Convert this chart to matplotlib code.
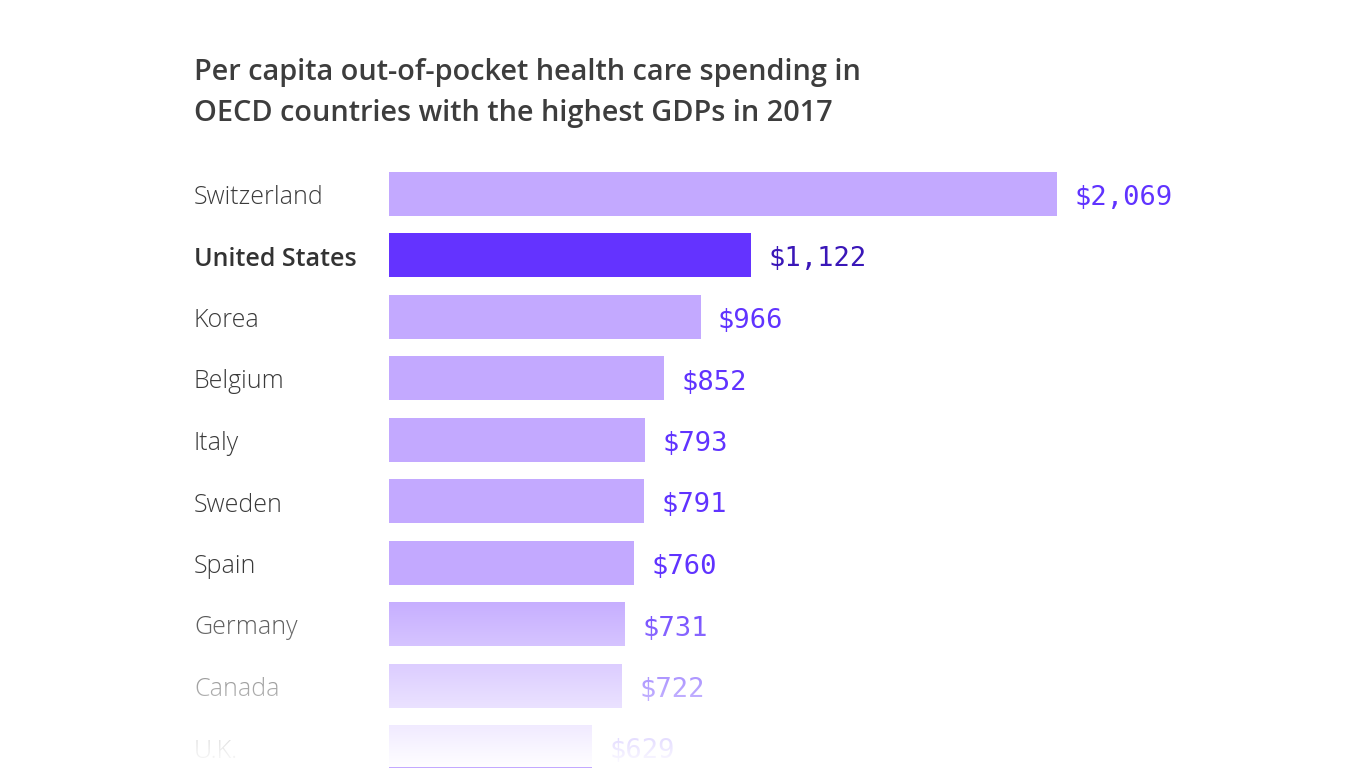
import matplotlib.pyplot as plt
import numpy as np

countries = ['Switzerland', 'United States', 'Korea', 'Belgium', 'Italy',
             'Sweden', 'Spain', 'Germany', 'Canada', 'U.K.']
spending = [2069, 1122, 966, 852, 793, 791, 760, 731, 722, 629]
highlight = 'United States'

W, H = 1366, 768
fig = plt.figure(figsize=(W / 100, H / 100), dpi=100)
fig.patch.set_facecolor('white')

# bars: left edge at 389px, 0.3229 px per dollar
x0 = 389
px_per = (1057 - 389) / 2069
row0, step = 193.5, 61.5
ax = fig.add_axes([x0 / W, 0, 1 - x0 / W, 1])
ax.set_xlim(0, (W - x0) / px_per)
ax.set_ylim((H - row0) / step, -row0 / step)
ax.axis('off')

y = np.arange(len(countries))
colors = ['#6433ff' if c == highlight else '#c3a9ff' for c in countries]
ax.barh(y, spending, height=44 / step, color=colors)

for yi, c, v in zip(y, countries, spending):
    hl = c == highlight
    ax.text(v + 17 / px_per, yi + 11.5 / step, f'${v:,}', va='baseline', ha='left',
            fontsize=19.5, family='DejaVu Sans Mono',
            color='#3a17b8' if hl else '#6033ff')
    fig.text(194 / W, 1 - (row0 + step * yi + 10.5) / H, c, va='baseline', ha='left',
             fontsize=18, family='Open Sans', weight=600 if hl else 300,
             color='#333333' if hl else '#3a3a3a')

fig.text(194 / W, 1 - 80 / H, 'Per capita out-of-pocket health care spending in',
         fontsize=20.8, family='Open Sans', weight=600, color='#3d3d3d', va='baseline')
fig.text(194 / W, 1 - 121 / H, 'OECD countries with the highest GDPs in 2017',
         fontsize=20.8, family='Open Sans', weight=600, color='#3d3d3d', va='baseline')

# white fade over the bottom rows
fade = fig.add_axes([0, 1 / H, 1, 177 / H])
fade.set_zorder(10)
fade.axis('off')
grad = np.zeros((200, 2, 4))
grad[..., :3] = 1
grad[..., 3] = np.linspace(1, 0, 200)[:, None]
fade.imshow(grad, aspect='auto', extent=[0, 1, 0, 1], origin='lower')
fade.set_xlim(0, 1)
fade.set_ylim(0, 1)

fig.savefig('out.png', dpi=100, facecolor='white')
